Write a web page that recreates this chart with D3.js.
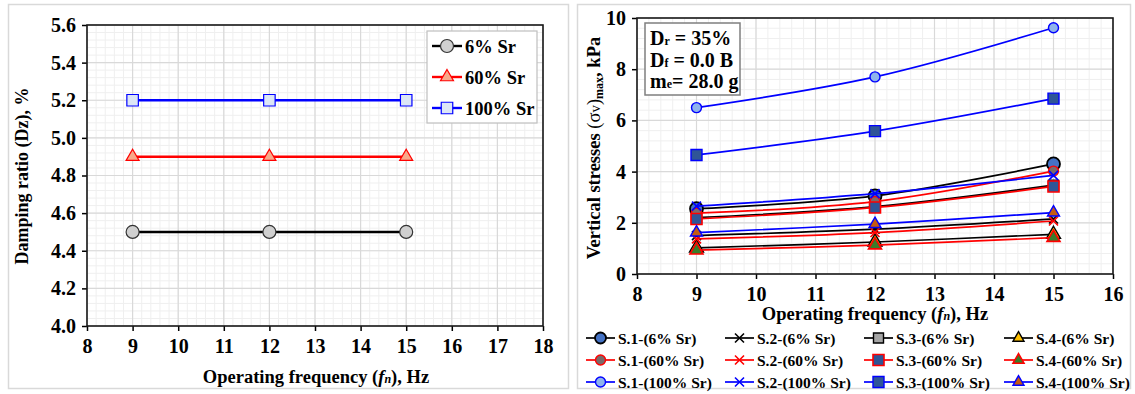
<!DOCTYPE html>
<html>
<head>
<meta charset="utf-8">
<script src="https://cdn.jsdelivr.net/npm/d3@7"></script>
<style>
  body { margin: 0; background: #fff; }
  text { font-family: "Liberation Serif", "Times New Roman", "DejaVu Serif", serif; font-weight: bold; fill: #000; }
</style>
</head>
<body>
<svg id="chart" width="1135" height="394"></svg>
<script>
// data
const freq = [9, 12, 15];

// left: damping ratio
const damp6 = [4.5, 4.5, 4.5];
const damp60 = [4.9, 4.9, 4.9];
const damp100 = [5.2, 5.2, 5.2];
const leftTicksX = d3.range(8, 19, 1);
const leftTicksY = [4.0, 4.2, 4.4, 4.6, 4.8, 5.0, 5.2, 5.4, 5.6];

// right: vertical stresses
const s1_6 = [2.55, 3.05, 4.3];
const s2_6 = [1.5, 1.75, 2.15];
const s3_6 = [2.2, 2.63, 3.47];
const s4_6 = [1.02, 1.25, 1.55];
const s1_60 = [2.38, 2.83, 4.02];
const s2_60 = [1.37, 1.62, 2.07];
const s3_60 = [2.15, 2.6, 3.42];
const s4_60 = [0.93, 1.13, 1.42];
const s1_100 = [6.5, 7.7, 9.62];
const s2_100 = [2.65, 3.14, 3.85];
const s3_100 = [4.65, 5.58, 6.85];
const s4_100 = [1.62, 1.95, 2.4];
const rightTicksX = d3.range(8, 17, 1);
const rightTicksY = [0, 2, 4, 6, 8, 10];

const svg = d3.select("#chart");

// panel frames
svg.append("rect").attr("x", 8.5).attr("y", 4.5).attr("width", 560).attr("height", 384)
    .attr("fill", "none").attr("stroke", "#d9d9d9").attr("stroke-width", 1.5);
svg.append("rect").attr("x", 577.5).attr("y", 4.5).attr("width", 553).attr("height", 384)
    .attr("fill", "none").attr("stroke", "#d9d9d9").attr("stroke-width", 1.5);

function xMarker(s) {
    const h = s / 2;
    return `M${-h},${-h}L${h},${h}M${-h},${h}L${h},${-h}`;
}
function markerPath(shape, size) {
    if (shape === "x") return xMarker(size);
    if (shape === "circle") return d3.symbol(d3.symbolCircle, Math.PI * (size / 2) ** 2)();
    if (shape === "square") return d3.symbol(d3.symbolSquare, size * size)();
    if (shape === "triangle") return d3.symbol(d3.symbolTriangle, size * size * 0.433)();
}

function grid(g, x, y, xMinor, yMinor, xMajor, yMajor) {
    const [x0, x1] = x.range(), [y1, y0] = y.range();
    g.selectAll(".vminor").data(xMinor).enter().append("line")
        .attr("x1", d => x(d)).attr("x2", d => x(d)).attr("y1", y0).attr("y2", y1)
        .attr("stroke", "#efefef").attr("stroke-width", 1);
    g.selectAll(".hminor").data(yMinor).enter().append("line")
        .attr("y1", d => y(d)).attr("y2", d => y(d)).attr("x1", x0).attr("x2", x1)
        .attr("stroke", "#efefef").attr("stroke-width", 1);
    g.selectAll(".vmajor").data(xMajor).enter().append("line")
        .attr("x1", d => x(d)).attr("x2", d => x(d)).attr("y1", y0).attr("y2", y1)
        .attr("stroke", "#d9d9d9").attr("stroke-width", 1.2);
    g.selectAll(".hmajor").data(yMajor).enter().append("line")
        .attr("y1", d => y(d)).attr("y2", d => y(d)).attr("x1", x0).attr("x2", x1)
        .attr("stroke", "#d9d9d9").attr("stroke-width", 1.2);
}

function axes(g, x, y, xt, yt, yfmt, fs) {
    const [x0, x1] = x.range(), [y1, y0] = y.range();
    const ax = g.append("g").attr("transform", `translate(0,${y1})`)
        .call(d3.axisBottom(x).tickValues(xt).tickSize(5).tickPadding(8).tickFormat(d3.format("d")));
    const ay = g.append("g").attr("transform", `translate(${x0},0)`)
        .call(d3.axisLeft(y).tickValues(yt).tickSize(5).tickPadding(6).tickFormat(yfmt));
    [ax, ay].forEach(a => {
        a.select(".domain").remove();
        a.selectAll(".tick line").attr("stroke", "#000").attr("stroke-width", 1.5);
        a.selectAll("text").style("font-size", fs + "px").attr("fill", "#000");
    });
    g.append("rect").attr("x", x0).attr("y", y0).attr("width", x1 - x0).attr("height", y1 - y0)
        .attr("fill", "none").attr("stroke", "#1a1a1a").attr("stroke-width", 1.6);
}

// ---------------- left chart ----------------
const xL = d3.scaleLinear([8, 18], [87, 543]);
const yL = d3.scaleLinear([4.0, 5.6], [326, 25]);
const gL = svg.append("g");
grid(gL, xL, yL, d3.range(8, 18.001, 0.2), d3.range(4, 5.6001, 0.04), leftTicksX, leftTicksY);
axes(gL, xL, yL, leftTicksX, leftTicksY, d3.format(".1f"), 20);

const leftSeries = [
    { name: "6% Sr", values: damp6, color: "#000", fill: "#d0d0d0", shape: "circle", size: 13 },
    { name: "60% Sr", values: damp60, color: "#ff0000", fill: "#f8a98a", shape: "triangle", size: 13 },
    { name: "100% Sr", values: damp100, color: "#0000ff", fill: "#dce6f6", shape: "square", size: 11.5 }
];
const lineL = d3.line().x((d, i) => xL(freq[i])).y(d => yL(d));
leftSeries.forEach(s => {
    gL.append("path").attr("d", lineL(s.values)).attr("fill", "none")
        .attr("stroke", s.color).attr("stroke-width", 2.4);
    gL.selectAll(null).data(s.values).enter().append("path")
        .attr("transform", (d, i) => `translate(${xL(freq[i])},${yL(d)})`)
        .attr("d", markerPath(s.shape, s.size))
        .attr("fill", s.fill).attr("stroke", s.color === "#000" ? "#333" : s.color).attr("stroke-width", 1.2);
});

// left legend
const lgL = gL.append("g").attr("transform", "translate(427,31)");
lgL.append("rect").attr("width", 110).attr("height", 92).attr("fill", "#fff")
    .attr("stroke", "#bfbfbf").attr("stroke-width", 1.2);
leftSeries.forEach((s, i) => {
    const yy = 15 + i * 31;
    lgL.append("line").attr("x1", 5).attr("x2", 35).attr("y1", yy).attr("y2", yy)
        .attr("stroke", s.color).attr("stroke-width", 2.4);
    lgL.append("path").attr("transform", `translate(20,${yy})`).attr("d", markerPath(s.shape, s.size))
        .attr("fill", s.fill).attr("stroke", s.color === "#000" ? "#333" : s.color).attr("stroke-width", 1.2);
    lgL.append("text").attr("x", 38).attr("y", yy + 6.5).style("font-size", "18.5px").text(s.name);
});

// left titles
svg.append("text").attr("transform", "translate(28,176) rotate(-90)").attr("text-anchor", "middle")
    .style("font-size", "18px").text("Damping ratio (Dz), %");
const tL = svg.append("text").attr("x", 316).attr("y", 383).attr("text-anchor", "middle").style("font-size", "18.5px");
tL.append("tspan").text("Operating frequency (");
tL.append("tspan").style("font-style", "italic").text("f");
tL.append("tspan").style("font-size", "12px").style("font-style", "italic").text("n");
tL.append("tspan").text("), Hz");

// ---------------- right chart ----------------
const xR = d3.scaleLinear([8, 16], [637, 1113]);
const yR = d3.scaleLinear([0, 10], [274, 18]);
const gR = svg.append("g");
grid(gR, xR, yR, d3.range(8, 16.001, 0.2), d3.range(0, 10.001, 0.4), rightTicksX, rightTicksY);
axes(gR, xR, yR, rightTicksX, rightTicksY, d3.format("d"), 20);

const rightSeries = [
    { name: "S.1-(6% Sr)", values: s1_6, color: "#000", fill: "#4472c4", shape: "circle", size: 13, sw: 1.8 },
    { name: "S.2-(6% Sr)", values: s2_6, color: "#000", fill: "none", shape: "x", size: 9, sw: 1.6 },
    { name: "S.3-(6% Sr)", values: s3_6, color: "#000", fill: "#a5a5a5", shape: "square", size: 10, sw: 1.4 },
    { name: "S.4-(6% Sr)", values: s4_6, color: "#000", fill: "#ffc000", shape: "triangle", size: 14, sw: 1.4 },
    { name: "S.1-(60% Sr)", values: s1_60, color: "#ff0000", fill: "#7a6a6a", shape: "circle", size: 10, sw: 1.4 },
    { name: "S.2-(60% Sr)", values: s2_60, color: "#ff0000", fill: "none", shape: "x", size: 9, sw: 1.6 },
    { name: "S.3-(60% Sr)", values: s3_60, color: "#ff0000", fill: "#2f5597", shape: "square", size: 11, sw: 1.6 },
    { name: "S.4-(60% Sr)", values: s4_60, color: "#ff0000", fill: "#3a7d2a", shape: "triangle", size: 13, sw: 1.6 },
    { name: "S.1-(100% Sr)", values: s1_100, color: "#0000ff", fill: "#8fb4ec", shape: "circle", size: 10, sw: 1.4 },
    { name: "S.2-(100% Sr)", values: s2_100, color: "#0000ff", fill: "none", shape: "x", size: 9, sw: 1.6 },
    { name: "S.3-(100% Sr)", values: s3_100, color: "#0000ff", fill: "#2f5597", shape: "square", size: 11, sw: 1.4 },
    { name: "S.4-(100% Sr)", values: s4_100, color: "#0000ff", fill: "#c55a11", shape: "triangle", size: 12, sw: 1.4 }
];
const lineR = d3.line().x((d, i) => xR(freq[i])).y(d => yR(d)).curve(d3.curveCatmullRom.alpha(0.5));
rightSeries.forEach(s => {
    gR.append("path").attr("d", lineR(s.values)).attr("fill", "none")
        .attr("stroke", s.color).attr("stroke-width", 1.7);
    gR.selectAll(null).data(s.values).enter().append("path")
        .attr("transform", (d, i) => `translate(${xR(freq[i])},${yR(d)})`)
        .attr("d", markerPath(s.shape, s.size))
        .attr("fill", s.fill).attr("stroke", s.color).attr("stroke-width", s.sw);
});

// info box
const box = svg.append("g").attr("transform", "translate(645,23)");
box.append("rect").attr("width", 95).attr("height", 72).attr("fill", "#fff")
    .attr("stroke", "#7f7f7f").attr("stroke-width", 1.5);
[["D", "r", " = 35%"], ["D", "f", " = 0.0 B"], ["m", "e", "= 28.0 g"]].forEach((t, i) => {
    const tx = box.append("text").attr("x", 5).attr("y", 22 + i * 21.5).style("font-size", "20px");
    tx.append("tspan").text(t[0]);
    tx.append("tspan").style("font-size", "12px").text(t[1]);
    tx.append("tspan").text(t[2]);
});

// right titles
const tY = svg.append("text").attr("transform", "translate(600,148) rotate(-90)").attr("text-anchor", "middle")
    .style("font-size", "18.5px");
tY.append("tspan").text("Vertical stresses ");
tY.append("tspan").style("font-weight", "normal").text("(σ");
tY.append("tspan").style("font-weight", "normal").style("font-size", "15px").text("v");
tY.append("tspan").style("font-weight", "normal").text(")");
tY.append("tspan").style("font-size", "12px").attr("dy", 3).text("max");
tY.append("tspan").attr("dy", -3).text(", kPa");

const tR = svg.append("text").attr("x", 875).attr("y", 320).attr("text-anchor", "middle").style("font-size", "18.5px");
tR.append("tspan").text("Operating frequency (");
tR.append("tspan").style("font-style", "italic").text("f");
tR.append("tspan").style("font-size", "12px").style("font-style", "italic").text("n");
tR.append("tspan").text("), Hz");

// right legend
const colX = [586, 725, 864, 1004];
const rowY = [338, 360, 382];
rightSeries.forEach((s, i) => {
    const cx = colX[i % 4], cy = rowY[Math.floor(i / 4)];
    const lg = svg.append("g").attr("transform", `translate(${cx},${cy})`);
    lg.append("line").attr("x1", 0).attr("x2", 29).attr("y1", 0).attr("y2", 0)
        .attr("stroke", s.color).attr("stroke-width", 1.7);
    lg.append("path").attr("transform", "translate(14.5,0)").attr("d", markerPath(s.shape, Math.min(s.size, 11)))
        .attr("fill", s.fill).attr("stroke", s.color).attr("stroke-width", s.sw);
    lg.append("text").attr("x", 32).attr("y", 5.5).style("font-size", "15.5px").text(s.name);
});
</script>
</body>
</html>
